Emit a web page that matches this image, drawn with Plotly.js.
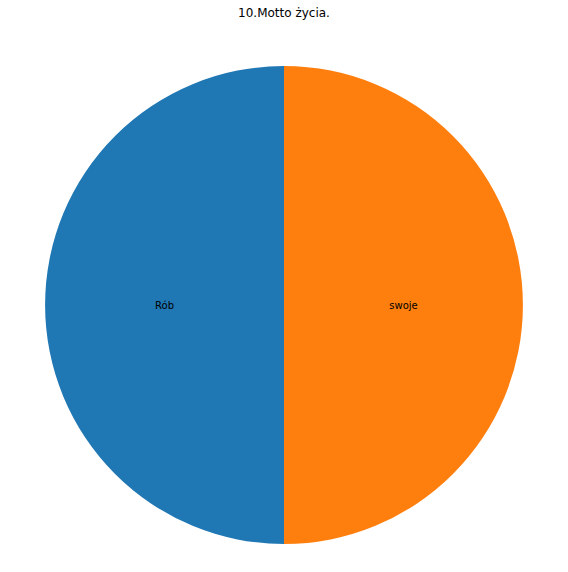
<!DOCTYPE html>
<html>
<head>
<meta charset="utf-8">
<script src="https://cdn.plot.ly/plotly-3.0.1.min.js"></script>
<style>
  html, body { margin: 0; padding: 0; background: #fff; }
  #chart { width: 568px; height: 572px; }
</style>
</head>
<body>
<div id="chart"></div>
<script>
// answers to question 10
const labels = ["Rób", "swoje"];
const counts = [1, 1];
const colors = ["#1f77b4", "#ff7f0e"];

Plotly.newPlot("chart", [{
  type: "pie",
  labels: labels,
  values: counts,
  sort: false,
  direction: "clockwise",
  rotation: 180,
  marker: { colors: colors, line: { width: 0 } },
  textinfo: "label",
  textposition: "inside",
  insidetextorientation: "horizontal",
  textfont: { family: "DejaVu Sans", size: 10, color: "#000" },
  hoverinfo: "label+value",
}], {
  width: 568,
  height: 572,
  margin: { l: 45, r: 45, t: 66, b: 28 },
  paper_bgcolor: "#fff",
  showlegend: false,
  title: {
    text: "10.Motto życia.",
    font: { family: "DejaVu Sans", size: 12, color: "#000" },
    x: 0.5,
    xanchor: "center",
    y: 1 - 13 / 572,
    yanchor: "middle",
  },
}, { displayModeBar: false, staticPlot: true });
</script>
</body>
</html>
